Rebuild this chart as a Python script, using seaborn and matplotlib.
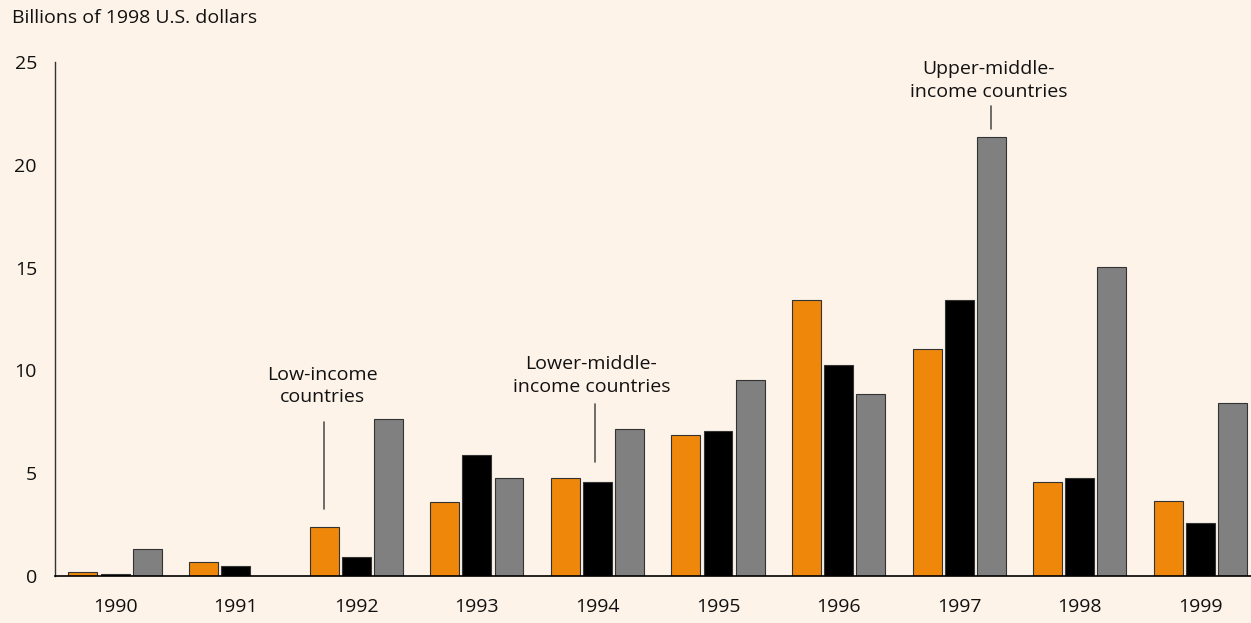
import pandas as pd
import matplotlib.pyplot as plt
import seaborn as sns

# values (billions of 1998 US dollars)
years = ['1990', '1991', '1992', '1993', '1994', '1995', '1996', '1997', '1998', '1999']
groups = ['Low-income countries', 'Lower-middle-income countries', 'Upper-middle-income countries']
low_income = [0.19, 0.70, 2.40, 3.58, 4.77, 6.84, 13.42, 11.04, 4.57, 3.66]
lower_middle = [0.11, 0.50, 0.91, 5.87, 4.57, 7.05, 10.26, 13.42, 4.77, 2.60]
upper_middle = [1.30, 0.02, 7.65, 4.77, 7.15, 9.53, 8.85, 21.37, 15.03, 8.43]
y_ticks = [0, 5, 10, 15, 20, 25]

colors = ['#EE870A', '#000000', '#808080']
bg = '#FDF3E9'

# long format table for seaborn
rows = []
for name, vals in zip(groups, [low_income, lower_middle, upper_middle]):
    for yr, v in zip(years, vals):
        rows.append({'year': yr, 'group': name, 'value': v})
df = pd.DataFrame(rows)

sns.set_style('white')
plt.rcParams['font.family'] = ['Open Sans', 'DejaVu Sans']

fig = plt.figure(figsize=(12.51, 6.23), dpi=100, facecolor=bg)
ax = fig.add_axes([0.044, 0.0754, 0.956, 0.8251])
ax.set_facecolor(bg)

sns.barplot(data=df, x='year', y='value', hue='group', order=years,
            hue_order=groups, palette=colors, saturation=1, width=0.8, gap=0.1,
            edgecolor='#333333', linewidth=0.8, legend=False, ax=ax)

fs = 14
ax.set_xlim(-0.498, 9.42)
ax.set_ylim(0, 25)
ax.set_yticks(y_ticks)
ax.set_xlabel('')
ax.set_ylabel('')
ax.tick_params(axis='both', length=0, labelsize=fs, colors='#111111')
ax.tick_params(axis='x', pad=16)
ax.tick_params(axis='y', pad=13)

for s in ['top', 'right']:
    ax.spines[s].set_visible(False)
ax.spines['left'].set_color('#333333')
ax.spines['left'].set_linewidth(1.0)
ax.spines['bottom'].set_color('#000000')
ax.spines['bottom'].set_linewidth(1.2)

fig.text(0.0096, 0.971, 'Billions of 1998 U.S. dollars', fontsize=fs,
         ha='left', va='center', color='#111111')

# callouts
ax.plot([1.733, 1.733], [3.27, 7.49], color='#555555', lw=1.2)
ax.text(1.72, 9.25, 'Low-income\ncountries', ha='center', va='center',
        fontsize=fs, linespacing=1.3, color='#111111')
ax.plot([3.98, 3.98], [5.54, 8.37], color='#555555', lw=1.2)
ax.text(3.95, 9.75, 'Lower-middle-\nincome countries', ha='center', va='center',
        fontsize=fs, linespacing=1.3, color='#111111')
ax.plot([7.262, 7.262], [21.74, 22.87], color='#555555', lw=1.2)
ax.text(7.245, 24.1, 'Upper-middle-\nincome countries', ha='center', va='center',
        fontsize=fs, linespacing=1.3, color='#111111')

fig.savefig('out.png', dpi=100, facecolor=bg)
